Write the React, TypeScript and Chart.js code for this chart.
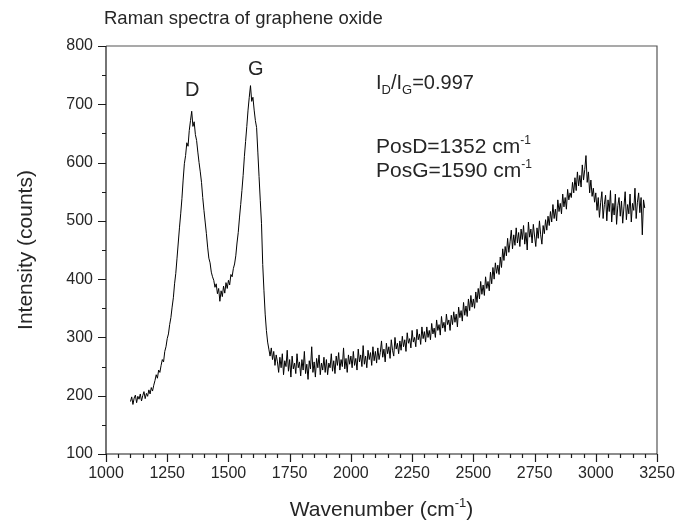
import React, { useEffect, useRef } from "react";
import { Chart, registerables } from "chart.js";

Chart.register(...registerables);

// Sampling grid of the spectrum (cm^-1)
const START_WN = 1100;
const STEP_WN = 5;

// Intensity (counts), split by spectral region
const riseRegion = [
  190, 198, 185, 196, 201, 188, 199, 194, 203, 191, 200, 207, 195, 204, 199, 210, 203, 214, 208, 218,
  226, 236, 230, 244, 240, 252, 262, 258, 276, 284, 298, 306, 322, 334, 352, 368, 392, 410, 436, 462,
];
const dBandRegion = [
  488, 512, 538, 570, 598, 612, 634, 628, 655, 672, 688, 662, 670, 648, 638, 618, 600, 584, 566, 540,
  518, 498, 478, 455, 436, 428, 412, 404, 398, 386, 392, 375, 384, 362, 380, 370, 388, 376, 394, 384,
];
const gBandRegion = [
  398, 390, 408, 404, 418, 426, 440, 462, 480, 505, 528, 552, 578, 610, 636, 662, 690, 712, 732, 705,
  712, 690, 672, 660, 618, 576, 535, 495, 425, 380, 340, 312, 292, 280, 268, 282, 262, 276, 252, 270,
];
const baselineRegion = [
  258, 240, 266, 248, 272, 236, 260, 250, 278, 242, 262, 232, 268, 246, 256, 238, 272, 248, 258, 234,
  262, 244, 276, 238, 254, 228, 260, 246, 284, 240, 258, 232, 264, 248, 270, 236, 256, 244, 266, 240,
  262, 236, 256, 248, 272, 242, 260, 238, 268, 252, 274, 244, 262, 250, 282, 246, 264, 240, 270, 254,
  268, 248, 276, 252, 264, 244, 280, 258, 270, 250, 286, 254, 268, 248, 278, 262, 274, 252, 284, 260,
];
const slopeRegion = [
  276, 256, 282, 262, 274, 294, 266, 280, 258, 290, 272, 284, 264, 296, 278, 268, 300, 280, 290, 272,
  294, 278, 302, 284, 296, 276, 308, 290, 298, 282, 312, 292, 300, 284, 314, 296, 306, 288, 318, 298,
  310, 292, 318, 300, 312, 296, 324, 306, 316, 300, 330, 312, 322, 304, 336, 316, 326, 310, 340, 322,
  330, 312, 338, 322, 344, 326, 340, 318, 352, 334, 346, 328, 360, 338, 354, 336, 366, 346, 372, 352,
];
const secondOrderRegion = [
  366, 350, 378, 360, 384, 366, 396, 374, 390, 372, 404, 384, 396, 380, 412, 392, 420, 400, 428, 410,
  424, 408, 438, 420, 452, 432, 456, 440, 470, 446, 464, 484, 452, 476, 458, 488, 462, 480, 456, 486,
  468, 492, 460, 480, 450, 498, 472, 486, 462, 494, 474, 456, 488, 470, 500, 476, 460, 492, 478, 502,
  484, 508, 492, 516, 498, 528, 504, 520, 500, 536, 516, 530, 512, 546, 524, 540, 520, 554, 536, 548,
];
const tailRegion = [
  540, 566, 548, 574, 552, 584, 560, 578, 558, 596, 570, 588, 612, 566, 584, 548, 570, 542, 556, 532,
  548, 518, 540, 506, 532, 550, 504, 528, 544, 500, 536, 516, 552, 498, 530, 510, 546, 494, 526, 540,
  508, 534, 496, 524, 550, 502, 528, 512, 546, 498, 530, 518, 556, 504, 532, 548, 514, 540, 476, 536,
  522,
];

const intensity = [
  ...riseRegion,
  ...dBandRegion,
  ...gBandRegion,
  ...baselineRegion,
  ...slopeRegion,
  ...secondOrderRegion,
  ...tailRegion,
];
const wavenumbers = intensity.map((_, i) => START_WN + i * STEP_WN);

const xTicks = [1000, 1250, 1500, 1750, 2000, 2250, 2500, 2750, 3000, 3250];
const yTicks = [100, 200, 300, 400, 500, 600, 700, 800];
const xMinorStep = 50;
const yMinorStep = 50;

const TITLE = "Raman spectra of graphene oxide";
const X_TITLE = "Wavenumber (cm";
const Y_TITLE = "Intensity (counts)";
const PEAK_D = "D";
const PEAK_G = "G";
const RATIO_VALUE = "=0.997";
const POS_D = "PosD=1352 cm";
const POS_G = "PosG=1590 cm";

const FONT = '"Liberation Sans", Arial, Helvetica, sans-serif';
const TEXT_COLOR = "#262626";

type Seg = { t: string; size: number; dy?: number };

function drawRich(ctx: CanvasRenderingContext2D, segs: Seg[], x: number, y: number, align: "left" | "center" = "left") {
  let total = 0;
  for (const s of segs) {
    ctx.font = `${s.size}px ${FONT}`;
    total += ctx.measureText(s.t).width;
  }
  let cx = align === "center" ? x - total / 2 : x;
  ctx.textAlign = "left";
  ctx.textBaseline = "alphabetic";
  for (const s of segs) {
    ctx.font = `${s.size}px ${FONT}`;
    ctx.fillText(s.t, cx, y + (s.dy || 0));
    cx += ctx.measureText(s.t).width;
  }
}

const framePlugin = {
  id: "frameAndText",
  afterDraw(chart: any) {
    const ctx: CanvasRenderingContext2D = chart.ctx;
    const { left, right, top, bottom } = chart.chartArea;
    const xs = chart.scales.x;
    const ys = chart.scales.y;
    ctx.save();

    // frame
    ctx.lineWidth = 1.2;
    ctx.strokeStyle = "#555";
    ctx.beginPath();
    ctx.moveTo(left, top);
    ctx.lineTo(right, top);
    ctx.lineTo(right, bottom);
    ctx.stroke();
    ctx.strokeStyle = "#1a1a1a";
    ctx.beginPath();
    ctx.moveTo(left, top);
    ctx.lineTo(left, bottom);
    ctx.lineTo(right, bottom);
    ctx.stroke();

    // ticks
    ctx.lineWidth = 1.2;
    ctx.strokeStyle = "#1a1a1a";
    ctx.beginPath();
    for (let v = xs.min; v <= xs.max + 0.001; v += xMinorStep) {
      const px = Math.round(xs.getPixelForValue(v)) + 0.5;
      const major = xTicks.includes(v);
      ctx.moveTo(px, bottom);
      ctx.lineTo(px, bottom + (major ? 8 : 4));
    }
    for (let v = ys.min; v <= ys.max + 0.001; v += yMinorStep) {
      const py = Math.round(ys.getPixelForValue(v)) + 0.5;
      const major = yTicks.includes(v);
      ctx.moveTo(left, py);
      ctx.lineTo(left - (major ? 8 : 4), py);
    }
    ctx.stroke();

    ctx.fillStyle = TEXT_COLOR;
    // chart title
    drawRich(ctx, [{ t: TITLE, size: 18.5 }], 104, 24);

    // axis titles
    drawRich(
      ctx,
      [
        { t: X_TITLE, size: 21 },
        { t: "-1", size: 13, dy: -9 },
        { t: ")", size: 21 },
      ],
      (left + right) / 2,
      516,
      "center"
    );
    ctx.save();
    ctx.translate(32, (top + bottom) / 2);
    ctx.rotate(-Math.PI / 2);
    drawRich(ctx, [{ t: Y_TITLE, size: 21 }], 0, 0, "center");
    ctx.restore();

    // peak labels
    drawRich(ctx, [{ t: PEAK_D, size: 20 }], xs.getPixelForValue(1352), 96, "center");
    drawRich(ctx, [{ t: PEAK_G, size: 20 }], xs.getPixelForValue(1612), 75, "center");

    // annotations
    drawRich(
      ctx,
      [
        { t: "I", size: 20 },
        { t: "D", size: 13, dy: 5 },
        { t: "/I", size: 20 },
        { t: "G", size: 13, dy: 5 },
        { t: RATIO_VALUE, size: 20 },
      ],
      376,
      89
    );
    drawRich(ctx, [{ t: POS_D, size: 21 }, { t: "-1", size: 12, dy: -9 }], 376, 153);
    drawRich(ctx, [{ t: POS_G, size: 21 }, { t: "-1", size: 12, dy: -9 }], 376, 177);

    ctx.restore();
  },
};

export default function App() {
  const ref = useRef<HTMLCanvasElement | null>(null);
  useEffect(() => {
    if (!ref.current) return;
    const tickFont = { family: FONT, size: 16 };
    const chart = new Chart(ref.current, {
      type: "line",
      data: {
        datasets: [
          {
            data: wavenumbers.map((x, i) => ({ x, y: intensity[i] })),
            borderColor: "#000",
            borderWidth: 1,
            pointRadius: 0,
            fill: false,
            tension: 0,
          },
        ],
      },
      options: {
        responsive: false,
        animation: false,
        events: [],
        layout: { padding: { left: 0, top: 46, right: 20, bottom: 0 } },
        plugins: {
          legend: { display: false },
          tooltip: { enabled: false },
          title: { display: false },
        },
        scales: {
          x: {
            type: "linear",
            min: 1000,
            max: 3250,
            afterBuildTicks: (s: any) => {
              s.ticks = xTicks.map((v) => ({ value: v }));
            },
            afterFit: (s: any) => {
              s.height = 70;
              s.paddingLeft = 0;
              s.paddingRight = 0;
            },
            ticks: {
              font: tickFont,
              color: TEXT_COLOR,
              padding: 10,
              maxRotation: 0,
              autoSkip: false,
              callback: (v: any) => String(v),
            },
            grid: { display: false, drawTicks: false },
            border: { display: false },
          },
          y: {
            type: "linear",
            min: 100,
            max: 800,
            afterBuildTicks: (s: any) => {
              s.ticks = yTicks.map((v) => ({ value: v }));
            },
            afterFit: (s: any) => {
              s.width = 106;
              s.paddingTop = 0;
              s.paddingBottom = 0;
            },
            ticks: {
              font: tickFont,
              color: TEXT_COLOR,
              padding: 13,
              autoSkip: false,
              callback: (v: any) => String(v),
            },
            grid: { display: false, drawTicks: false },
            border: { display: false },
          },
        },
      } as any,
      plugins: [framePlugin],
    });
    return () => chart.destroy();
  }, []);

  return (
    <div style={{ position: "absolute", left: 0, top: 0, width: 677, height: 524, background: "#fff" }}>
      <canvas ref={ref} width={677} height={524} style={{ display: "block" }} />
    </div>
  );
}
